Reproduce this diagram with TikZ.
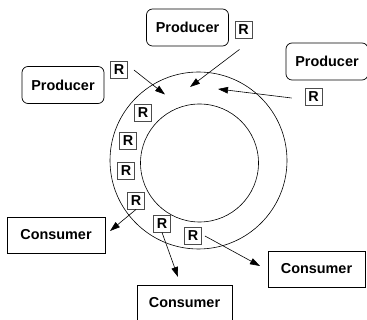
\documentclass[tikz,border=0pt]{standalone}
\usepackage{fontspec}
\setmainfont{Liberation Sans}
\usetikzlibrary{arrows.meta}
\begin{document}
\begin{tikzpicture}[x=1pt,y=-1pt,
  lbl/.style={font=\fontsize{14.4}{16}\selectfont\bfseries},
  producer/.style={lbl,draw,rounded corners=6pt,line width=0.7pt,minimum width=82pt,minimum height=37pt,inner sep=0pt},
  consumer/.style={lbl,draw,line width=0.7pt,minimum width=97pt,minimum height=36pt,inner sep=0pt},
  rec/.style={lbl,draw=black!70,line width=0.9pt,minimum width=17pt,minimum height=17pt,inner sep=0pt},
  ring/.style={line width=0.6pt},
  flow/.style={line width=0.6pt,-{Triangle[length=10pt,width=6.5pt]}}]
  \useasboundingbox (0,0) rectangle (367,320);

  % buffer ring
  \draw[ring] (198.5,160.5) circle[radius=88.5];
  \draw[ring] (199.5,163) circle[radius=59];

  % producers
  \node[producer] (p1) at (187.5,27.5) {Producer};
  \node[producer] (p2) at (327,61.5) {Producer};
  \node[producer] (p3) at (63,85) {Producer};

  % consumers
  \node[consumer,minimum width=98pt] (c1) at (56,235) {Consumer};
  \node[consumer,minimum width=95pt] (c2) at (184.5,303) {Consumer};
  \node[consumer] (c3) at (316.5,269) {Consumer};

  % records waiting to be written
  \node[rec] (w1) at (243.5,29.5) {R};
  \node[rec] (w2) at (313.5,97) {R};
  \node[rec] (w3) at (119,70) {R};

  % records held in the ring
  \node[rec] (r1) at (143,113) {R};
  \node[rec] (r2) at (128,140.5) {R};
  \node[rec] (r3) at (126,171) {R};
  \node[rec] (r4) at (136,200.5) {R};
  \node[rec] (r5) at (162,223.5) {R};
  \node[rec] (r6) at (193,236) {R};

  % insertion points
  \coordinate (i1) at (190,87);
  \coordinate (i2) at (165,94.5);
  \coordinate (i3) at (218,89);

  \draw[flow] (w1.south) ++(-4,11) coordinate (s1) (s1) -- (i1);
  \draw[flow] (w3.east) ++(6,0) coordinate (s3) (s3) -- (i2);
  \draw[flow] (w2.west) ++(-13,1) coordinate (s2) (s2) -- (i3);

  % removal to consumers
  \coordinate (o1) at (110,231);
  \coordinate (o2) at (178,277);
  \coordinate (o3) at (260,266);
  \draw[flow] (r4.south) -- (o1);
  \draw[flow] (r5.south) -- (o2);
  \draw[flow] (r6.east) ++(3,0) coordinate (s6) (s6) -- (o3);
\end{tikzpicture}
\end{document}
